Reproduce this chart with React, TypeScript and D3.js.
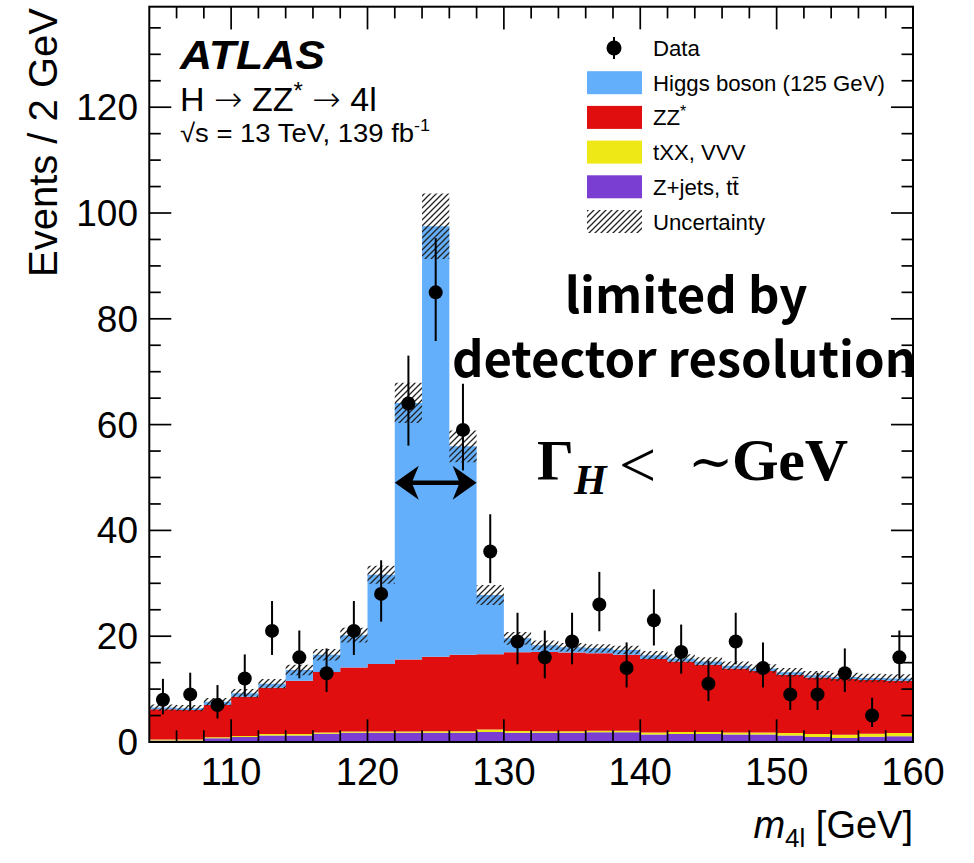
import React, { useEffect, useRef } from "react";
import * as d3 from "d3";

// bin centres of m4l [GeV], 2 GeV bins
const massCenters = [105, 107, 109, 111, 113, 115, 117, 119, 121, 123, 125, 127, 129, 131,
    133, 135, 137, 139, 141, 143, 145, 147, 149, 151, 153, 155, 157, 159];

const dataCounts = [8, 9, 7, 12, 21, 16, 13, 21, 28, 64, 85, 59, 36, 19,
    16, 19, 26, 14, 23, 17, 11, 19, 14, 9, 9, 13, 5, 16];

// stacked backgrounds + signal, bottom to top
const zjets = [0.3, 0.3, 0.7, 0.95, 1.25, 1.25, 1.55, 1.75, 1.75, 1.75, 1.75, 1.75, 1.9, 1.75,
    1.75, 1.75, 1.85, 1.85, 1.4, 1.5, 1.5, 1.4, 1.4, 1.25, 0.95, 0.75, 1.0, 1.1];
const txx = [0.15, 0.15, 0.2, 0.2, 0.25, 0.25, 0.25, 0.25, 0.25, 0.25, 0.3, 0.3, 0.45, 0.35,
    0.3, 0.3, 0.3, 0.3, 0.4, 0.4, 0.4, 0.4, 0.4, 0.45, 0.55, 0.6, 0.55, 0.6];
const zz = [5.75, 5.6, 6.1, 7.4, 8.75, 10.1, 11.45, 12.1, 12.75, 13.6, 14.05, 14.45, 14.25, 14.85,
    14.95, 14.85, 14.65, 14.35, 13.9, 13.3, 12.7, 12.1, 11.6, 11.0, 10.7, 10.55, 10.15, 9.9];
const higgs = [0.3, 0.35, 0.6, 0.65, 0.75, 2.0, 3.25, 6.1, 16.85, 48.5, 81.4, 39.4, 11.2, 2.65,
    1.3, 1.0, 0.9, 0.9, 0.7, 0.6, 0.6, 0.5, 0.5, 0.5, 0.4, 0.4, 0.4, 0.4];
// half width of the hatched uncertainty band
const uncertainty = [0.6, 0.6, 0.7, 0.8, 0.9, 1.0, 1.1, 1.4, 1.7, 3.8, 6.2, 3.0, 1.9, 1.2,
    0.9, 0.8, 0.8, 0.8, 0.8, 0.8, 0.8, 0.8, 0.8, 0.8, 0.8, 0.8, 0.8, 0.8];

const xMajorTicks = [110, 120, 130, 140, 150, 160];
const yMajorTicks = [0, 20, 40, 60, 80, 100, 120];

const legendLabels = ["Data", "Higgs boson (125 GeV)", "ZZ*", "tXX, VVV", "Z+jets, tt̄", "Uncertainty"];

const colors = {
    higgs: "#64affc",
    zz: "#e00e0e",
    txx: "#eee816",
    zjets: "#7a3ed2",
};

const SANS = "'Liberation Sans', Arial, Helvetica, sans-serif";

// approximate Garwood 68% interval for a Poisson count
const poissonErr = (n) => {
    const up = (n + 1) * Math.pow(1 - 1 / (9 * (n + 1)) + 1 / (3 * Math.sqrt(n + 1)), 3) - n;
    const lo = n > 0 ? n - n * Math.pow(1 - 1 / (9 * n) - 1 / (3 * Math.sqrt(n)), 3) : 0;
    return [lo, up];
};

export default function App() {
    const ref = useRef<SVGSVGElement>(null);

    useEffect(() => {
        const svg = d3.select(ref.current);
        svg.selectAll("*").remove();

        const left = 149.3, right = 913, top = 6.7, bottom = 742;
        const x = d3.scaleLinear().domain([104, 160]).range([left, right]);
        const y = d3.scaleLinear().domain([0, 139]).range([bottom, top]);

        const defs = svg.append("defs");
        const pat = defs.append("pattern")
            .attr("id", "hatch")
            .attr("patternUnits", "userSpaceOnUse")
            .attr("width", 6)
            .attr("height", 6);
        pat.append("path")
            .attr("d", "M-1,1 l2,-2 M0,6 l6,-6 M5,7 l2,-2")
            .attr("stroke", "#222")
            .attr("stroke-width", 1.3);
        defs.append("clipPath").attr("id", "frame")
            .append("rect").attr("x", left).attr("y", top)
            .attr("width", right - left).attr("height", bottom - top);

        // stacked histogram
        const rows = massCenters.map((m, i) => ({
            m, zjets: zjets[i], txx: txx[i], zz: zz[i], higgs: higgs[i],
        }));
        const keys = ["zjets", "txx", "zz", "higgs"];
        const stacked = d3.stack().keys(keys)(rows);

        const area = d3.area()
            .x(p => x(p.x))
            .y0(p => y(p.y0))
            .y1(p => y(p.y1));

        const steps = (vals) => vals.flatMap(v => [
            { x: v.m - 1, y0: v.y0, y1: v.y1 },
            { x: v.m + 1, y0: v.y0, y1: v.y1 },
        ]);

        const plot = svg.append("g").attr("clip-path", "url(#frame)");

        stacked.forEach(layer => {
            const pts = steps(layer.map((d, i) => ({ m: massCenters[i], y0: d[0], y1: d[1] })));
            plot.append("path")
                .attr("d", area(pts))
                .attr("fill", colors[layer.key]);
        });

        const totals = stacked[stacked.length - 1].map(d => d[1]);
        const bandPts = steps(totals.map((t, i) => ({
            m: massCenters[i], y0: t - uncertainty[i], y1: t + uncertainty[i],
        })));
        plot.append("path")
            .attr("d", area(bandPts))
            .attr("fill", "url(#hatch)");

        // axes ticks (drawn on top of fills)
        const axes = svg.append("g").attr("stroke", "#000").attr("stroke-width", 1.7);
        const xMinor = d3.range(106, 160, 2).filter(v => !xMajorTicks.includes(v));
        const yMinor = d3.range(5, 139, 5).filter(v => !yMajorTicks.includes(v));

        const xt = [...xMajorTicks.map(v => ({ v, len: 22.7 })), ...xMinor.map(v => ({ v, len: 11.7 }))];
        axes.selectAll(".xb").data(xt).join("line")
            .attr("x1", d => x(d.v)).attr("x2", d => x(d.v))
            .attr("y1", bottom).attr("y2", d => bottom - d.len);
        axes.selectAll(".xt").data(xt).join("line")
            .attr("x1", d => x(d.v)).attr("x2", d => x(d.v))
            .attr("y1", top).attr("y2", d => top + d.len);

        const yt = [...yMajorTicks.map(v => ({ v, len: 22 })), ...yMinor.map(v => ({ v, len: 11.5 }))];
        axes.selectAll(".yl").data(yt).join("line")
            .attr("y1", d => y(d.v)).attr("y2", d => y(d.v))
            .attr("x1", left).attr("x2", d => left + d.len);
        axes.selectAll(".yr").data(yt).join("line")
            .attr("y1", d => y(d.v)).attr("y2", d => y(d.v))
            .attr("x1", right).attr("x2", d => right - d.len);

        // data points
        const pts = svg.append("g");
        massCenters.forEach((m, i) => {
            const n = dataCounts[i];
            const [lo, up] = poissonErr(n);
            pts.append("line")
                .attr("x1", x(m)).attr("x2", x(m))
                .attr("y1", y(n - lo)).attr("y2", y(n + up))
                .attr("stroke", "#000").attr("stroke-width", 2);
            pts.append("circle")
                .attr("cx", x(m)).attr("cy", y(n)).attr("r", 7)
                .attr("fill", "#000");
        });

        // frame
        svg.append("rect")
            .attr("x", left).attr("y", top)
            .attr("width", right - left).attr("height", bottom - top)
            .attr("fill", "none").attr("stroke", "#000").attr("stroke-width", 2);

        // tick labels
        svg.append("g").selectAll("text").data(xMajorTicks).join("text")
            .attr("x", d => x(d)).attr("y", 785)
            .attr("text-anchor", "middle")
            .attr("font-family", SANS).attr("font-size", 38)
            .text(d => d);
        svg.append("g").selectAll("text").data(yMajorTicks).join("text")
            .attr("x", 138).attr("y", d => y(d) + 13)
            .attr("text-anchor", "end")
            .attr("font-family", SANS).attr("font-size", 37)
            .text(d => d);

        // axis titles
        svg.append("text")
            .attr("transform", "translate(57,8) rotate(-90)")
            .attr("text-anchor", "end")
            .attr("font-family", SANS).attr("font-size", 40)
            .text("Events / 2 GeV");

        const xt2 = svg.append("text")
            .attr("x", right).attr("y", 838)
            .attr("text-anchor", "end")
            .attr("font-family", SANS).attr("font-size", 38);
        xt2.append("tspan").attr("font-style", "italic").text("m");
        xt2.append("tspan").attr("font-size", 26).attr("dy", 9).text("4l");
        xt2.append("tspan").attr("dy", -9).text(" [GeV]");

        // ATLAS label
        svg.append("text")
            .attr("x", 180).attr("y", 69)
            .attr("font-family", SANS).attr("font-size", 40)
            .attr("font-weight", "bold").attr("font-style", "italic")
            .attr("textLength", 145).attr("lengthAdjust", "spacingAndGlyphs")
            .text("ATLAS");
        const ARROW = "'DejaVu Sans', sans-serif";
        const proc = svg.append("text")
            .attr("x", 180).attr("y", 111)
            .attr("font-family", SANS).attr("font-size", 34);
        proc.append("tspan").text("H ");
        proc.append("tspan").attr("font-family", ARROW).attr("font-weight", 300).text("→");
        proc.append("tspan").text(" ZZ");
        proc.append("tspan").attr("font-size", 24).attr("dy", -12).text("*");
        proc.append("tspan").attr("dy", 12).text(" ");
        proc.append("tspan").attr("font-family", ARROW).attr("font-weight", 300).text("→");
        proc.append("tspan").text(" 4l");
        const lumi = svg.append("text")
            .attr("x", 180).attr("y", 142)
            .attr("font-family", SANS).attr("font-size", 26)
            .attr("textLength", 250).attr("lengthAdjust", "spacingAndGlyphs");
        lumi.append("tspan").text("√s = 13 TeV, 139 fb");
        lumi.append("tspan").attr("font-size", 17).attr("dy", -11).text("-1");

        // legend
        const lg = svg.append("g");
        const rowY = (i) => 48 + i * 34.7;
        lg.append("line")
            .attr("x1", 614).attr("x2", 614)
            .attr("y1", rowY(0) - 11).attr("y2", rowY(0) + 11)
            .attr("stroke", "#000").attr("stroke-width", 2);
        lg.append("circle").attr("cx", 614).attr("cy", rowY(0)).attr("r", 7.5).attr("fill", "#000");
        const boxFills = [colors.higgs, colors.zz, colors.txx, colors.zjets, "url(#hatch)"];
        boxFills.forEach((f, k) => {
            lg.append("rect")
                .attr("x", 587).attr("y", rowY(k + 1) - 11.5)
                .attr("width", 55).attr("height", 23)
                .attr("fill", f);
        });
        legendLabels.forEach((t, i) => {
            const tx = lg.append("text")
                .attr("x", 653).attr("y", rowY(i) + 8)
                .attr("font-family", SANS).attr("font-size", 22.2);
            if (t === "ZZ*") {
                tx.append("tspan").text("ZZ");
                tx.append("tspan").attr("font-size", 16).attr("dy", -8).text("*");
            } else {
                tx.text(t);
            }
        });

        // annotation
        const ann = svg.append("g");
        const ay = y(49);
        ann.append("line")
            .attr("x1", x(122) + 14).attr("x2", x(128) - 14)
            .attr("y1", ay).attr("y2", ay)
            .attr("stroke", "#000").attr("stroke-width", 4.5);
        const head = (xt, dir) =>
            `M${xt},${ay} L${xt + dir * 24},${ay - 17} L${xt + dir * 17},${ay} L${xt + dir * 24},${ay + 17} Z`;
        ann.append("path").attr("d", head(x(122), 1)).attr("fill", "#000");
        ann.append("path").attr("d", head(x(128), -1)).attr("fill", "#000");

        const CJK = "'Noto Sans CJK SC', 'Noto Sans', sans-serif";
        ann.append("text")
            .attr("x", 686).attr("y", 313)
            .attr("text-anchor", "middle")
            .attr("font-family", CJK).attr("font-weight", "bold").attr("font-size", 49)
            .text("limited by");
        ann.append("text")
            .attr("x", 684).attr("y", 377)
            .attr("text-anchor", "middle")
            .attr("font-family", CJK).attr("font-weight", "bold").attr("font-size", 49)
            .text("detector resolution");

        const SERIF = "'Liberation Serif', 'DejaVu Serif', serif";
        const g = ann.append("text")
            .attr("x", 537).attr("y", 480)
            .attr("font-family", SERIF).attr("font-size", 58);
        g.append("tspan").attr("font-weight", "bold").text("Γ");
        g.append("tspan").attr("font-weight", "bold").attr("font-style", "italic")
            .attr("font-size", 42).attr("dy", 14).text("H");
        g.append("tspan").attr("x", 619).attr("dy", -7)
            .attr("font-size", 66).text("<");
        g.append("tspan").attr("x", 688).attr("dy", -7)
            .attr("font-family", "'DejaVu Serif', serif").attr("font-size", 54).text("~");
        g.append("tspan").attr("x", 732).attr("font-weight", "bold")
            .attr("font-size", 60).attr("textLength", 116).text("GeV");
    }, []);

    return (
        <svg
            ref={ref}
            width={974}
            height={863}
            style={{ position: "absolute", left: 0, top: 0, background: "#fff" }}
        />
    );
}
